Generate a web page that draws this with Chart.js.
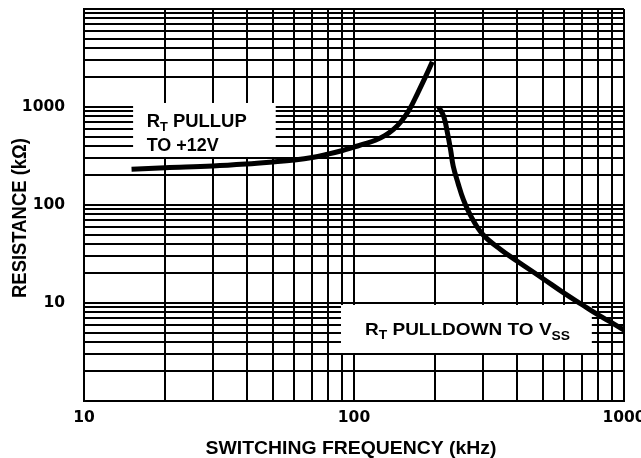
<!DOCTYPE html>
<html>
<head>
<meta charset="utf-8">
<script src="https://cdn.jsdelivr.net/npm/chart.js@4/dist/chart.umd.min.js"></script>
<style>
  html, body { margin: 0; padding: 0; background: #fff; }
  canvas { display: block; }
</style>
</head>
<body>
<canvas id="c" width="641" height="458"></canvas>
<script>
// ---- data ----
const pullupFreq = [15, 20, 30, 40, 50, 60, 70, 80, 90, 100, 110, 120, 130, 140, 150, 160, 172, 185, 195];
const pullupRes  = [232, 240, 250, 262, 275, 288, 305, 330, 358, 390, 422, 458, 510, 590, 720, 930, 1380, 2100, 2900];

const pulldownFreq = [206, 215, 222, 228, 233, 243, 254, 271, 300, 350, 400, 500, 600, 700, 800, 900, 1000];
const pulldownRes  = [1000, 800, 540, 364, 250, 166, 114, 77, 50, 35, 27, 17.8, 12.6, 9.6, 7.6, 6.3, 5.3];

const xGridValues = [10,20,30,40,50,60,70,80,90,100,200,300,400,500,600,700,800,900,1000];
const yGridValues = [1,2,3,4,5,6,7,8,9,10,20,30,40,50,60,70,80,90,100,200,300,400,500,600,700,800,900,1000,2000,3000,4000,5000,6000,7000,8000,9000,10000];
const xTickLabels = [10, 100, 1000];
const yTickLabels = [10, 100, 1000];

const xTitle = 'SWITCHING FREQUENCY (kHz)';
const yTitle = 'RESISTANCE (kΩ)';

const FONT = '"Liberation Sans", Arial, Helvetica, sans-serif';

function drawRuns(ctx, runs, x, baseline, targetWidth) {
  let w = 0;
  runs.forEach(r => { ctx.font = 'bold ' + r.size + 'px ' + FONT; w += ctx.measureText(r.text).width; });
  const s = targetWidth ? targetWidth / w : 1;
  ctx.save();
  ctx.translate(x, baseline);
  ctx.scale(s, 1);
  ctx.fillStyle = '#000';
  ctx.textAlign = 'left';
  ctx.textBaseline = 'alphabetic';
  let cx = 0;
  runs.forEach(r => {
    ctx.font = 'bold ' + r.size + 'px ' + FONT;
    ctx.fillText(r.text, cx, r.dy || 0);
    cx += ctx.measureText(r.text).width;
  });
  ctx.restore();
}

const annotations = {
  id: 'annotations',
  beforeDatasetsDraw(chart) {
    const ctx = chart.ctx;
    const xs = chart.scales.x, ys = chart.scales.y;
    const boxes = [
      { x0: 15.2, x1: 51.3, y0: 1099, y1: 309 },
      { x0: 89.5, x1: 760, y0: 9.55, y1: 3.09 }
    ];
    ctx.save();
    ctx.fillStyle = '#fff';
    boxes.forEach(b => {
      const l = xs.getPixelForValue(b.x0), r = xs.getPixelForValue(b.x1);
      const t = ys.getPixelForValue(b.y0), btm = ys.getPixelForValue(b.y1);
      ctx.fillRect(l, t, r - l, btm - t);
    });
    ctx.restore();
    const L = chart.chartArea.left, T = chart.chartArea.top;
    drawRuns(ctx, [{text:'R', size:18}, {text:'T', size:12.5, dy:4}, {text:' PULLUP', size:18}], L + 62.7, T + 117.5, 100);
    drawRuns(ctx, [{text:'TO +12V', size:18}], L + 62.7, T + 141.5, 72);
    drawRuns(ctx, [{text:'R', size:16.5}, {text:'T', size:12, dy:4}, {text:' PULLDOWN TO V', size:16.5}, {text:'SS', size:12, dy:5}], L + 281, T + 326, 205);
  },
  afterDraw(chart) {
    const ctx = chart.ctx;
    const a = chart.chartArea;
    ctx.save();
    ctx.font = 'bold 18px ' + FONT;
    const w = ctx.measureText(xTitle).width;
    ctx.translate((a.left + a.right) / 2 - 3, 454);
    ctx.scale(291 / w, 1);
    ctx.fillStyle = '#000';
    ctx.textAlign = 'center';
    ctx.textBaseline = 'alphabetic';
    ctx.fillText(xTitle, 0, 0);
    ctx.restore();

    ctx.save();
    ctx.font = 'bold 18px ' + FONT;
    const wy = ctx.measureText(yTitle).width;
    ctx.translate(25.5, 218);
    ctx.scale(1.15, 1);
    ctx.rotate(-Math.PI / 2);
    ctx.scale(160 / wy, 1);
    ctx.fillStyle = '#000';
    ctx.textAlign = 'center';
    ctx.textBaseline = 'alphabetic';
    ctx.fillText(yTitle, 0, 0);
    ctx.restore();
  }
};

const tickFont = { family: '"DejaVu Sans", sans-serif', weight: 'bold', size: 15.5 };

new Chart(document.getElementById('c'), {
  type: 'scatter',
  data: {
    datasets: [
      {
        data: pullupFreq.map((f, i) => ({ x: f, y: pullupRes[i] })),
        showLine: true, borderColor: '#000', borderWidth: 5, pointRadius: 0,
        tension: 0.4, fill: false, borderCapStyle: 'butt'
      },
      {
        data: pulldownFreq.map((f, i) => ({ x: f, y: pulldownRes[i] })),
        showLine: true, borderColor: '#000', borderWidth: 5, pointRadius: 0,
        tension: 0.4, fill: false, borderCapStyle: 'butt'
      }
    ]
  },
  options: {
    responsive: false,
    animation: false,
    devicePixelRatio: 1,
    layout: { padding: { top: 9, right: 17, left: 0, bottom: 0 } },
    plugins: { legend: { display: false }, tooltip: { enabled: false }, title: { display: false } },
    scales: {
      x: {
        type: 'logarithmic', min: 10, max: 1000,
        afterBuildTicks: s => { s.ticks = xGridValues.map(v => ({ value: v })); },
        afterFit: s => { s.height = 57; s.paddingLeft = 0; s.paddingRight = 0; },
        grid: { color: '#000', lineWidth: 2, drawTicks: false },
        border: { color: '#000', width: 2 },
        ticks: {
          autoSkip: false, maxRotation: 0, minRotation: 0, padding: 8, color: '#000', font: tickFont,
          callback: v => xTickLabels.includes(v) ? String(v) : ''
        }
      },
      y: {
        type: 'logarithmic', min: 1, max: 10000,
        afterBuildTicks: s => { s.ticks = yGridValues.map(v => ({ value: v })); },
        afterFit: s => { s.width = 84; s.paddingTop = 0; s.paddingBottom = 0; },
        grid: { color: '#000', lineWidth: 2, drawTicks: false },
        border: { color: '#000', width: 2 },
        ticks: {
          autoSkip: false, padding: 19, color: '#000', font: tickFont,
          callback: v => yTickLabels.includes(v) ? String(v) : ''
        }
      }
    }
  },
  plugins: [annotations]
});
</script>
</body>
</html>
